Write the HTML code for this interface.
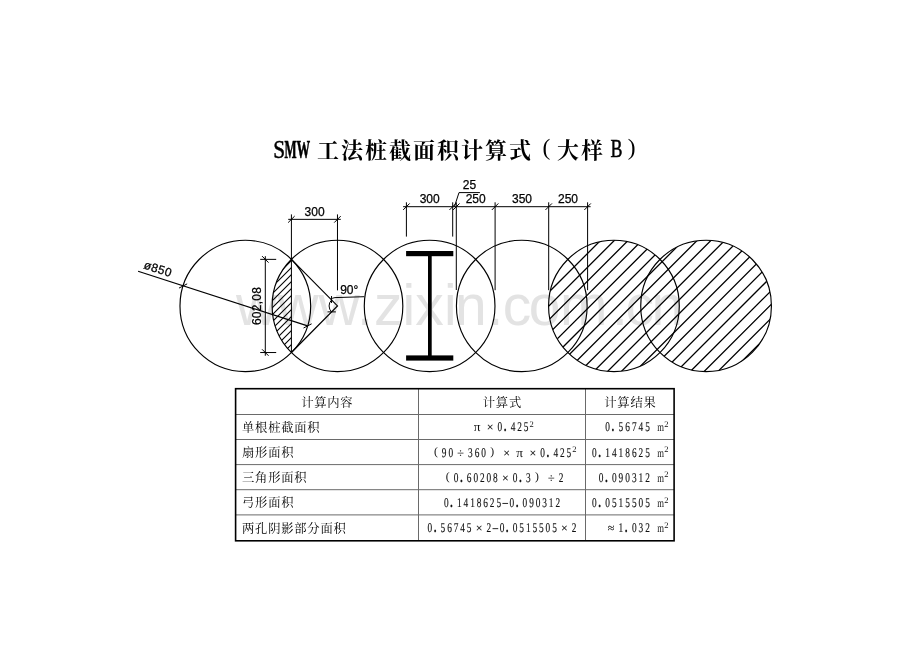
<!DOCTYPE html>
<html lang="zh"><head><meta charset="utf-8"><title>SMW 工法桩截面积计算式（大样 B）</title>
<style>
html,body{margin:0;padding:0;background:#fff;}
svg{display:block;will-change:transform;}
text{font-family:"Liberation Sans",sans-serif;}
.wm{font-family:"Liberation Sans",sans-serif;}
.tl,.tp{font-family:"Liberation Serif",serif;fill:#000;}
.tl{stroke:#000;}
.tp{font-weight:normal;}
.dw path,.dw ellipse{fill:none;stroke:#000;stroke-width:1;}
.dw ellipse{stroke-width:1.15;}
.dw .hx{stroke-width:1.3;}
.dw .hl{stroke-width:1.1;}
.dw .dg{stroke-width:1.2;}
.hb rect{fill:#000;}
.dt{font-family:"Liberation Sans",sans-serif;font-size:12px;fill:#000;stroke:#000;stroke-width:0.25;}
.tin path{stroke:#6a6a6a;stroke-width:1;fill:none;}
.tout{fill:none;stroke:#000;stroke-width:1.6;}
.nn,.no,.np,.ns{font-family:"Liberation Serif",serif;fill:#111;text-rendering:geometricPrecision;}
.nn,.no{stroke:#111;stroke-width:0.15;}
.nn{font-size:13.33px;}
.no{font-size:12px;}
.np{font-size:11.7px;}
.pi{font-size:13.33px;font-family:"Liberation Serif",serif;fill:#111;text-rendering:geometricPrecision;}
.pd{font-weight:bold;font-size:16px;}
.ns{font-size:8.5px;}
.nm{font-family:"Liberation Serif",serif;fill:#111;text-rendering:geometricPrecision;font-size:12px;}
.mn{stroke:#111;stroke-width:0.9;fill:none;}
.tc{font-family:"Liberation Serif","Noto Serif CJK SC",serif;font-size:12.3px;fill:#000;}
.title-cjk{font-family:"Liberation Serif","Noto Serif CJK SC",serif;font-size:22px;font-weight:bold;fill:#000;}
</style></head>
<body>
<svg width="920" height="651" viewBox="0 0 920 651">
<rect width="920" height="651" fill="#fff"/>
<defs><clipPath id="cpU"><ellipse cx="613.93" cy="305.95" rx="65.35" ry="65.70"/><ellipse cx="706.08" cy="305.95" rx="65.35" ry="65.70"/></clipPath><clipPath id="cpL"><path d="M291.41 259.36 A65.35 65.70 0 0 0 291.41 352.54 Z"/></clipPath></defs>
<text class="wm" x="235.9 277.5 318.6 357.0 374.0 402.4 415.2 443.9 454.9 487.5 502.7 528.7 560.1 611.9 625.6 651.5" y="324.6" font-size="57" fill="#e3e3e3">www.zixin.com.cn</text>
<text class="title-cjk" x="317 341 365 389 413 437 461 485 509" y="157.7">工法桩截面积计算式</text>
<text class="title-cjk" x="557 581" y="157.7">大样</text>
<text class="tl" x="273.17" y="157.70" font-size="25" font-weight="normal" stroke-width="0.5" textLength="11.85" lengthAdjust="spacingAndGlyphs">S</text>
<text class="tl" x="284.38" y="157.70" font-size="25" font-weight="bold" stroke-width="0.6" textLength="12.09" lengthAdjust="spacingAndGlyphs">M</text>
<text class="tl" x="296.41" y="157.70" font-size="25" font-weight="bold" stroke-width="0.6" textLength="13.61" lengthAdjust="spacingAndGlyphs">W</text>
<text class="tl" x="610.58" y="157.30" font-size="25" font-weight="normal" stroke-width="0.5" textLength="12.00" lengthAdjust="spacingAndGlyphs">B</text>
<text class="tp" x="542.4" y="154.75" font-size="23.4">(</text>
<text class="tp" x="627.75" y="154.75" font-size="23.4">)</text>
<g class="dw"><ellipse cx="245.33" cy="305.95" rx="65.35" ry="65.70"/><ellipse cx="337.48" cy="305.95" rx="65.35" ry="65.70"/><ellipse cx="429.63" cy="305.95" rx="65.35" ry="65.70"/><ellipse cx="521.78" cy="305.95" rx="65.35" ry="65.70"/><ellipse cx="613.93" cy="305.95" rx="65.35" ry="65.70"/><ellipse cx="706.08" cy="305.95" rx="65.35" ry="65.70"/><path class="dg" d="M291.41 259.36 L337.48 305.95 L291.41 352.54"/><path d="M291.41 214.4 V352.54"/><path d="M337.48 214.4 V290.4"/><path d="M288.21 219.35 H340.78"/><path d="M288.15 222.60 L294.66 216.10"/><path d="M334.23 222.60 L340.73 216.10"/><path d="M403.10 206.70 H590.60"/><path d="M406.40 202.3 V236.60"/><path d="M403.15 209.95 L409.65 203.45"/><path d="M452.70 202.3 V236.60"/><path d="M449.45 209.95 L455.95 203.45"/><path d="M456.30 202.3 V290.00"/><path d="M453.05 209.95 L459.55 203.45"/><path d="M495.10 202.3 V290.20"/><path d="M491.85 209.95 L498.35 203.45"/><path d="M548.70 202.3 V290.20"/><path d="M545.45 209.95 L551.95 203.45"/><path d="M587.60 202.3 V290.20"/><path d="M584.35 209.95 L590.85 203.45"/><path d="M454.4 206.7 L459.0 192.6 H479.9"/><path d="M265.30 256.16 V355.74"/><path d="M260.2 259.36 H276.2"/><path d="M260.2 352.54 H276.2"/><path d="M268.55 262.61 L262.05 256.11"/><path d="M268.55 355.79 L262.05 349.29"/><path class="dg" d="M138.10 271.20 L307.59 325.92"/><path d="M178.99 288.08 L187.16 283.87"/><path d="M303.50 328.03 L311.67 323.82"/><path d="M331.54 300.01 A8.40 8.40 0 0 0 331.54 311.89"/><path d="M331.54 296.01 V303.01"/><path d="M327.54 311.89 H335.84"/><path d="M331.54 299.21 Q332.14 297.90 335.0 297.6 L364.3 296.7"/><path class="hx" clip-path="url(#cpU)" d="M441.00 400 L641.00 200 M454.80 400 L654.80 200 M468.60 400 L668.60 200 M482.40 400 L682.40 200 M496.20 400 L696.20 200 M510.00 400 L710.00 200 M523.80 400 L723.80 200 M537.60 400 L737.60 200 M551.40 400 L751.40 200 M565.20 400 L765.20 200 M579.00 400 L779.00 200 M592.80 400 L792.80 200 M606.60 400 L806.60 200 M620.40 400 L820.40 200 M634.20 400 L834.20 200 M648.00 400 L848.00 200 M661.80 400 L861.80 200 M675.60 400 L875.60 200 M689.40 400 L889.40 200 M703.20 400 L903.20 200"/><path class="hl" clip-path="url(#cpL)" d="M131.00 400 L331.00 200 M138.00 400 L338.00 200 M145.00 400 L345.00 200 M152.00 400 L352.00 200 M159.00 400 L359.00 200 M166.00 400 L366.00 200 M173.00 400 L373.00 200 M180.00 400 L380.00 200 M187.00 400 L387.00 200 M194.00 400 L394.00 200 M201.00 400 L401.00 200 M208.00 400 L408.00 200 M215.00 400 L415.00 200 M222.00 400 L422.00 200 M229.00 400 L429.00 200 M236.00 400 L436.00 200 M243.00 400 L443.00 200 M250.00 400 L450.00 200 M257.00 400 L457.00 200"/></g>
<g class="hb"><rect x="406.1" y="251.0" width="47.2" height="5.2"/><rect x="406.1" y="355.4" width="47.2" height="5.2"/><rect x="428.0" y="253" width="3.7" height="105"/></g>
<text class="dt" x="314.55" y="215.90" text-anchor="middle">300</text>
<text class="dt" x="429.70" y="203.10" text-anchor="middle">300</text>
<text class="dt" x="475.70" y="203.10" text-anchor="middle">250</text>
<text class="dt" x="522.00" y="203.10" text-anchor="middle">350</text>
<text class="dt" x="568.00" y="203.10" text-anchor="middle">250</text>
<text class="dt" x="469.50" y="188.80" text-anchor="middle">25</text>
<text class="dt" x="340.20" y="293.60" text-anchor="start">90°</text>
<text class="dt" transform="translate(143.0 268.3) rotate(17.7)" textLength="28.6" lengthAdjust="spacing">ø850</text>
<text class="dt" text-anchor="middle" transform="translate(260.7 306.1) rotate(-90)" textLength="38" lengthAdjust="spacing">602,08</text>
<g class="tin"><path d="M418.5 389 V540 M585.5 389 V540"/><path d="M236 414.50 H674"/><path d="M236 439.50 H674"/><path d="M236 464.60 H674"/><path d="M236 489.70 H674"/><path d="M236 514.90 H674"/></g><rect class="tout" x="235.6" y="388.7" width="438.5" height="152.1"/>
<text class="tc" x="301.17 314.22 327.27 340.32" y="406.57">计算内容</text>
<text class="tc" x="482.80 495.85 508.90" y="406.57">计算式</text>
<text class="tc" x="604.27 617.33 630.38 643.42" y="406.57">计算结果</text>
<text class="tc" x="242.07 255.12 268.18 281.23 294.28 307.33" y="431.77">单根桩截面积</text>
<text class="tc" x="242.07 255.12 268.18 281.23" y="456.97">扇形面积</text>
<text class="tc" x="242.07 255.12 268.18 281.23 294.28" y="482.17">三角形面积</text>
<text class="tc" x="242.07 255.12 268.18 281.23" y="507.37">弓形面积</text>
<text class="tc" x="242.07 255.12 268.18 281.23 294.28 307.33 320.38 333.43" y="532.57">两孔阴影部分面积</text>
<g><text class="nn" text-anchor="middle" transform="scale(0.7 1)" x="714.24 721.73 732.98 742.35 751.72" y="431.45">0<tspan class="pd">.</tspan>425</text><text class="pi" x="477.01" y="431.45" text-anchor="middle">π</text><text class="no" x="490.13" y="431.45" text-anchor="middle">×</text><text class="ns" x="529.59" y="427.05">2</text></g>
<g><text class="nn" text-anchor="middle" transform="scale(0.7 1)" x="868.07 875.67 887.07 896.57 906.07 915.57 925.07" y="431.45">0<tspan class="pd">.</tspan>56745</text><text class="nm" text-anchor="middle" transform="translate(660.65 431.45) scale(0.72 1)">m</text><text class="ns" x="664.28" y="427.05">2</text></g>
<g><text class="nn" text-anchor="middle" transform="scale(0.7 1)" x="634.58 643.95 672.07 681.44 690.81 775.15 782.65 793.89 803.27 812.64" y="456.65">903600<tspan class="pd">.</tspan>425</text><text class="np" x="435.94" y="455.00" text-anchor="middle">(</text><text class="no" x="460.61" y="456.65" text-anchor="middle">÷</text><text class="np" x="492.23" y="455.00" text-anchor="middle">)</text><text class="no" x="506.53" y="456.65" text-anchor="middle">×</text><text class="pi" x="519.65" y="456.65" text-anchor="middle">π</text><text class="no" x="532.77" y="456.65" text-anchor="middle">×</text><text class="ns" x="572.23" y="452.25">2</text></g>
<g><text class="nn" text-anchor="middle" transform="scale(0.7 1)" x="849.07 856.67 868.07 877.57 887.07 896.57 906.07 915.57 925.07" y="456.65">0<tspan class="pd">.</tspan>1418625</text><text class="nm" text-anchor="middle" transform="translate(660.65 456.65) scale(0.72 1)">m</text><text class="ns" x="664.28" y="452.25">2</text></g>
<g><text class="nn" text-anchor="middle" transform="scale(0.7 1)" x="651.54 659.04 670.29 679.66 689.03 698.40 707.77 735.89 743.38 754.63 801.49" y="481.85">0<tspan class="pd">.</tspan>602080<tspan class="pd">.</tspan>32</text><text class="np" x="447.81" y="480.20" text-anchor="middle">(</text><text class="no" x="505.28" y="481.85" text-anchor="middle">×</text><text class="np" x="536.90" y="480.20" text-anchor="middle">)</text><text class="no" x="551.20" y="481.85" text-anchor="middle">÷</text></g>
<g><text class="nn" text-anchor="middle" transform="scale(0.7 1)" x="858.57 866.17 877.57 887.07 896.57 906.07 915.57 925.07" y="481.85">0<tspan class="pd">.</tspan>090312</text><text class="nm" text-anchor="middle" transform="translate(660.65 481.85) scale(0.72 1)">m</text><text class="ns" x="664.28" y="477.45">2</text></g>
<g><text class="nn" text-anchor="middle" transform="scale(0.7 1)" x="637.49 644.98 656.23 665.60 674.97 684.34 693.71 703.09 712.46 731.20 738.70 749.94 759.31 768.69 778.06 787.43 796.80" y="507.05">0<tspan class="pd">.</tspan>14186250<tspan class="pd">.</tspan>090312</text><path class="mn" d="M502.40 503.45 H508.06"/></g>
<g><text class="nn" text-anchor="middle" transform="scale(0.7 1)" x="849.07 856.67 868.07 877.57 887.07 896.57 906.07 915.57 925.07" y="507.05">0<tspan class="pd">.</tspan>0515505</text><text class="nm" text-anchor="middle" transform="translate(660.65 507.05) scale(0.72 1)">m</text><text class="ns" x="664.28" y="502.65">2</text></g>
<g><text class="nn" text-anchor="middle" transform="scale(0.7 1)" x="614.06 621.55 632.80 642.17 651.54 660.91 670.29 698.40 717.14 724.64 735.89 745.26 754.63 764.00 773.37 782.74 792.11 820.23" y="532.25">0<tspan class="pd">.</tspan>5674520<tspan class="pd">.</tspan>05155052</text><text class="no" x="479.04" y="532.25" text-anchor="middle">×</text><path class="mn" d="M492.56 528.65 H498.22"/><text class="no" x="564.32" y="532.25" text-anchor="middle">×</text></g>
<g><text class="nn" text-anchor="middle" transform="scale(0.7 1)" x="887.07 894.67 906.07 915.57 925.07" y="532.25">1<tspan class="pd">.</tspan>032</text><text class="no" x="610.98" y="532.25" text-anchor="middle">≈</text><text class="nm" text-anchor="middle" transform="translate(660.65 532.25) scale(0.72 1)">m</text><text class="ns" x="664.28" y="527.85">2</text></g>
</svg>
</body></html>
